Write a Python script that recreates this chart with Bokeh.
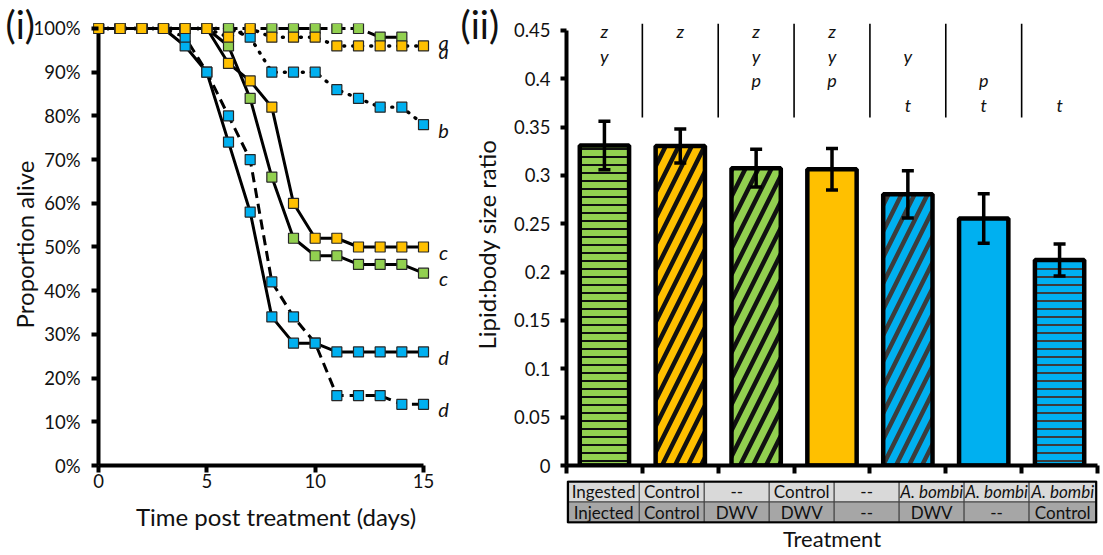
import math
from bokeh.plotting import figure
from bokeh.models import (ColumnDataSource, Range1d, FixedTicker, PrintfTickFormatter,
                          Whisker, TeeHead, Title)
from bokeh.layouts import row, column
from bokeh.embed import file_html
from bokeh.resources import INLINE
from bokeh.core.properties import value

NaN = float("nan")

# ---------------- Panel (i): survival (% alive) ----------------
days = list(range(16))
surv_ctrl_ctrl   = [100, 100, 100, 100, 100, 100, 100, 100, 100, 100, 100, 100, 100, 98, 98, NaN]  # green dashed
surv_ctrl_dwv    = [100, 100, 100, 100, 100, 100, 96, 84, 66, 52, 48, 48, 46, 46, 46, 44]           # green solid
surv_none_none   = [100, 100, 100, 100, 100, 100, 98, 100, 98, 98, 98, 96, 96, 96, 96, 96]          # yellow dotted
surv_none_dwv    = [100, 100, 100, 100, 100, 100, 92, 88, 82, 60, 52, 52, 50, 50, 50, 50]           # yellow solid
surv_abombi_none = [100, 100, 100, 100, 100, 100, 100, 98, 90, 90, 90, 86, 84, 82, 82, 78]          # blue dotted
surv_abombi_dwv  = [100, 100, 100, 100, 96, 90, 74, 58, 34, 28, 28, 26, 26, 26, 26, 26]             # blue solid
surv_abombi_ctrl = [100, 100, 100, 100, 98, 90, 80, 70, 42, 34, 28, 16, 16, 16, 14, 14]             # blue dashed
surv_letters = {"ctrl_ctrl": "a", "none_none": "a", "abombi_none": "b", "none_dwv": "c",
                "ctrl_dwv": "c", "abombi_dwv": "d", "abombi_ctrl": "d"}
pct_ticks = [0, 10, 20, 30, 40, 50, 60, 70, 80, 90, 100]
day_ticks = [0, 5, 10, 15]

# ---------------- Panel (ii): lipid:body size ratio ----------------
ingested = ["Control", "--", "Control", "--", "A. bombi", "A. bombi", "A. bombi"]
injected = ["Control", "DWV", "DWV", "--", "DWV", "--", "Control"]
lipid_ratio = [0.331, 0.3305, 0.3075, 0.3065, 0.2805, 0.2555, 0.2125]
lipid_se = [0.025, 0.0175, 0.0195, 0.0215, 0.0245, 0.0255, 0.0165]
sig_groups = ["zy", "z", "zyp", "zyp", "yt", "pt", "t"]
ratio_ticks = [0, 0.05, 0.1, 0.15, 0.2, 0.25, 0.3, 0.35, 0.4, 0.45]
ratio_tick_labels = ["0", "0.05", "0.1", "0.15", "0.2", "0.25", "0.3", "0.35", "0.4", "0.45"]

GREEN, YELLOW, BLUE = "#92D050", "#FFC000", "#00B0F0"
FONT = "Lato"
TXT = "#111111"
TICK_FS = "18.5px"
LABEL_FS = "24px"
PANEL_FS = "38px"

# =============== figure (i) ===============
left = figure(width=458, height=554, x_range=Range1d(-0.2308, 16.615), y_range=Range1d(0, 101.14),
              output_backend="svg", toolbar_location=None,
              min_border_left=93, min_border_right=0, min_border_top=23, min_border_bottom=89)
left.outline_line_color = None
left.grid.visible = False

xa = left.xaxis[0]
xa.ticker = FixedTicker(ticks=day_ticks)
xa.bounds = (0, 15)
xa.axis_line_width = 4
xa.major_tick_line_width = 4
xa.major_tick_out = 7
xa.major_tick_in = 0
xa.minor_tick_line_color = None
xa.major_label_standoff = 1
xa.major_label_text_font = FONT
xa.major_label_text_font_size = TICK_FS
xa.major_label_text_color = TXT
xa.axis_label = "Time post treatment (days)"
xa.axis_label_text_font = FONT
xa.axis_label_text_font_size = LABEL_FS
xa.axis_label_text_font_style = "normal"
xa.axis_label_text_color = TXT
xa.axis_label_standoff = 11

ya = left.yaxis[0]
ya.ticker = FixedTicker(ticks=pct_ticks)
ya.formatter = PrintfTickFormatter(format="%d%%")
ya.axis_line_color = None
ya.major_tick_line_width = 4
ya.major_tick_out = 2
ya.major_tick_in = 5
ya.minor_tick_line_color = None
ya.major_label_standoff = 11
ya.major_label_text_font = FONT
ya.major_label_text_font_size = TICK_FS
ya.major_label_text_color = TXT
ya.axis_label = "Proportion alive"
ya.axis_label_text_font = FONT
ya.axis_label_text_font_size = LABEL_FS
ya.axis_label_text_font_style = "normal"
ya.axis_label_text_color = TXT
ya.axis_label_standoff = -9

# y-axis line through day 0
left.segment(x0=[0], y0=[0], x1=[0], y1=[100], line_width=4, line_color="black")

series = [
    ("abombi_none", surv_abombi_none, BLUE, "dotted"),
    ("abombi_dwv", surv_abombi_dwv, BLUE, "solid"),
    ("abombi_ctrl", surv_abombi_ctrl, BLUE, "dashed"),
    ("ctrl_ctrl", surv_ctrl_ctrl, GREEN, "longdash"),
    ("ctrl_dwv", surv_ctrl_dwv, GREEN, "solid"),
    ("none_none", surv_none_none, YELLOW, "dotted"),
    ("none_dwv", surv_none_dwv, YELLOW, "solid"),
]
dash_map = {"solid": "solid", "dashed": "10 6", "longdash": "13 5", "dotted": "1 8"}
for name, ys, col, style in series:
    cap = "round" if style == "dotted" else "butt"
    left.line(days, ys, line_color="black", line_width=3.4 if style == "dotted" else 3,
              line_dash=dash_map[style], line_cap=cap, line_join="round")
for name, ys, col, style in series:
    left.scatter(days, ys, marker="square", size=10, fill_color=col,
                 line_color="#262626", line_width=1.2)

# end-of-curve significance letters
lab_y, lab_t = [], []
for name, ys, col, style in series:
    last = [v for v in ys if not math.isnan(v)][-1]
    lab_y.append(last)
    lab_t.append(surv_letters[name])
left.text(x=[15] * len(lab_y), y=lab_y, text=lab_t, x_offset=20, y_offset=5,
          text_align="center", text_baseline="middle", text_font=value(FONT),
          text_font_size="20px", text_font_style="italic", text_color=TXT)

left.add_layout(Title(text="(i)", align="left", offset=-88, vertical_align="bottom",
                      standoff=-46, text_font=FONT, text_font_size=PANEL_FS,
                      text_font_style="normal", text_color=TXT), "above")

# =============== figure (ii) bars ===============
ncat = len(lipid_ratio)
right = figure(width=644, height=479, x_range=Range1d(0, ncat), y_range=Range1d(0, 0.4572),
               output_backend="svg", toolbar_location=None,
               min_border_left=108, min_border_right=5, min_border_top=23, min_border_bottom=14)
right.outline_line_color = None
right.grid.visible = False

rx = right.xaxis[0]
rx.ticker = FixedTicker(ticks=[], minor_ticks=list(range(ncat + 1)))
rx.bounds = (0, ncat)
rx.axis_line_width = 4
rx.major_tick_line_color = None
rx.minor_tick_line_width = 4
rx.minor_tick_out = 8
rx.minor_tick_in = 0
rx.major_label_standoff = 0

ry = right.yaxis[0]
ry.ticker = FixedTicker(ticks=ratio_ticks)
ry.major_label_overrides = {t: l for t, l in zip(ratio_ticks, ratio_tick_labels)}
ry.bounds = (0, 0.45)
ry.axis_line_width = 4
ry.major_tick_line_width = 4
ry.major_tick_out = 6
ry.major_tick_in = 0
ry.minor_tick_line_color = None
ry.major_label_standoff = 10
ry.major_label_text_font = FONT
ry.major_label_text_font_size = TICK_FS
ry.major_label_text_color = TXT
ry.axis_label = "Lipid:body size ratio"
ry.axis_label_text_font = FONT
ry.axis_label_text_font_size = LABEL_FS
ry.axis_label_text_font_style = "normal"
ry.axis_label_text_color = TXT
ry.axis_label_standoff = 10

color_of = {"Control": GREEN, "--": YELLOW, "A. bombi": BLUE}
hatch_of = {"Control": "horizontal_line", "DWV": "right_diagonal_line", "--": "blank"}
xs = [i + 0.5 for i in range(ncat)]
bar_src = ColumnDataSource(dict(
    x=xs, top=lipid_ratio,
    upper=[m + s for m, s in zip(lipid_ratio, lipid_se)],
    lower=[m - s for m, s in zip(lipid_ratio, lipid_se)],
    fill=[color_of[g] for g in ingested],
    hatch=[hatch_of[j] for j in injected],
    hcol=["#3c3c3c" if g == "A. bombi" else "#111111" for g in ingested],
    hscale=[8 if j == "Control" else 26 for j in injected],
    hweight=[2 if j == "Control" else 4.5 for j in injected],
))
right.vbar(x="x", top="top", width=0.65, bottom=0, source=bar_src,
           fill_color="fill", line_color="black", line_width=4.5,
           hatch_pattern="hatch", hatch_color="hcol", hatch_scale="hscale",
           hatch_weight="hweight")
right.add_layout(Whisker(base="x", upper="upper", lower="lower", source=bar_src,
                         level="overlay", line_color="black", line_width=3.5,
                         upper_head=TeeHead(size=12, line_width=3.5, line_color="black"),
                         lower_head=TeeHead(size=12, line_width=3.5, line_color="black")))

# significance letters and column separators
order = "zypt"
let_x, let_y, let_t = [], [], []
for i, grp in enumerate(sig_groups):
    for ch in grp:
        let_x.append(i + 0.5)
        let_y.append(0.4495 - order.index(ch) * 0.0255)
        let_t.append(ch)
right.text(x=let_x, y=let_y, text=let_t, text_align="center", text_baseline="middle",
           text_font=value(FONT), text_font_size="18px", text_font_style="italic",
           text_color=TXT)
right.segment(x0=list(range(1, ncat)), y0=[0.360] * (ncat - 1),
              x1=list(range(1, ncat)), y1=[0.4572] * (ncat - 1),
              line_color="black", line_width=1.6)

right.add_layout(Title(text="(ii)", align="left", offset=-106, vertical_align="bottom",
                       standoff=-47, text_font=FONT, text_font_size=PANEL_FS,
                       text_font_style="normal", text_color=TXT), "above")

# =============== treatment table ===============
table = figure(width=644, height=75, x_range=Range1d(-1.1205, 7.0527), y_range=Range1d(-0.045, 2.045),
               output_backend="svg", toolbar_location=None,
               min_border_left=23, min_border_right=1, min_border_top=1, min_border_bottom=27)
table.outline_line_color = None
table.grid.visible = False
table.yaxis.visible = False
tx = table.xaxis[0]
tx.ticker = FixedTicker(ticks=[])
tx.bounds = (0, ncat)
tx.axis_line_color = None
tx.major_tick_line_color = None
tx.minor_tick_line_color = None
tx.axis_label = "Treatment"
tx.axis_label_text_font = FONT
tx.axis_label_text_font_size = "22px"
tx.axis_label_text_font_style = "normal"
tx.axis_label_text_color = TXT
tx.axis_label_standoff = 1

TL, TR = -1.10, 7.035
lefts = [TL] + list(range(ncat))
rights = list(range(1, ncat)) + [TR]
rights = [0] + rights
table.quad(left=lefts + lefts, right=rights + rights,
           bottom=[1] * (ncat + 1) + [0] * (ncat + 1), top=[2] * (ncat + 1) + [1] * (ncat + 1),
           fill_color=["#D9D9D9"] * (ncat + 1) + ["#A6A6A6"] * (ncat + 1),
           line_color="#404040", line_width=1)
table.quad(left=[TL], right=[TR], bottom=[0], top=[2], fill_color=None,
           line_color="black", line_width=2.5)

cell_x = [(l + r) / 2 for l, r in zip(lefts, rights)]
row_texts = [("Ingested", ingested, 1.5), ("Injected", injected, 0.5)]
for head, vals, yy in row_texts:
    texts = [head] + vals
    norm = [(x, t) for x, t in zip(cell_x, texts) if t != "A. bombi"]
    ital = [(x, t) for x, t in zip(cell_x, texts) if t == "A. bombi"]
    for items, style in ((norm, "normal"), (ital, "italic")):
        if items:
            table.text(x=[a for a, _ in items], y=[yy] * len(items), text=[b for _, b in items],
                       text_align="center", text_baseline="middle", text_font=value(FONT),
                       text_font_size="17px", text_font_style=style, text_color=TXT)

layout = row(left, column(right, table, spacing=0), spacing=0)
open("out.html", "w").write(file_html(layout, INLINE))
